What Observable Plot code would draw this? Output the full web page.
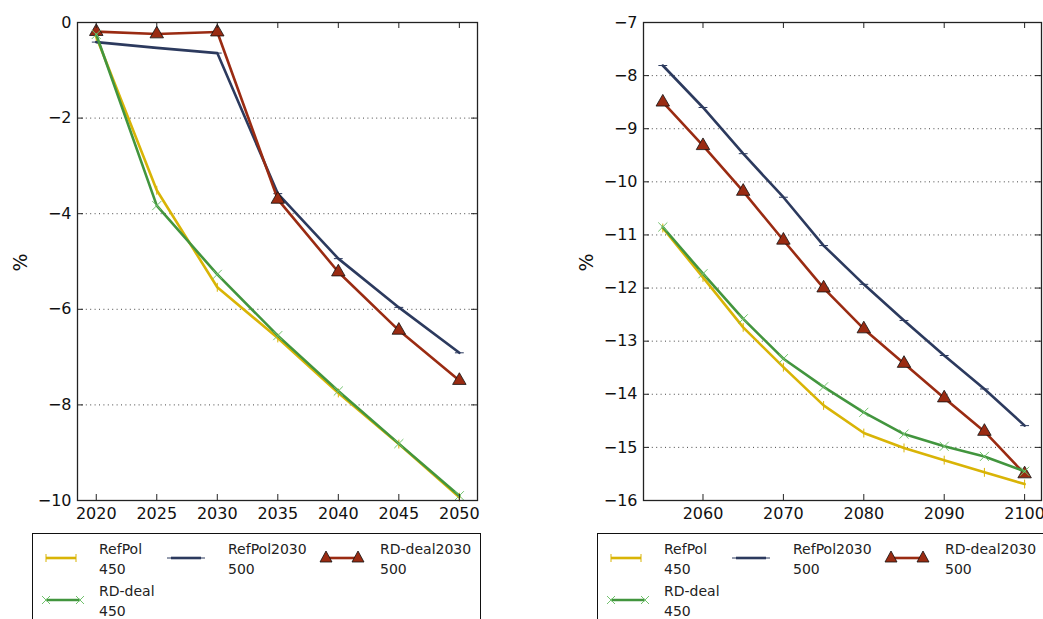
<!DOCTYPE html>
<html><head><meta charset="utf-8">
<script src="https://cdn.jsdelivr.net/npm/d3@7"></script>
<script src="https://cdn.jsdelivr.net/npm/@observablehq/plot@0.6"></script>
<style>
body{margin:0;background:#fff;font-family:"DejaVu Sans",sans-serif;}
#wrap{position:relative;width:1043px;height:619px;overflow:hidden;background:#fff;}
.panel{position:absolute;top:0;}
.legend{position:absolute;top:533px;width:449px;height:120px;border:1.3px solid #111;background:#fff;box-sizing:border-box;}
.lt{position:absolute;font-size:14px;line-height:20px;color:#222;white-space:nowrap;}
.ls{position:absolute;overflow:visible;}
</style></head><body><div id="wrap"></div>
<script>
// ---------- data ----------
const seriesNames = ["RefPol", "RefPol2030", "RD-deal2030", "RD-deal"];
const seriesSub = ["450", "500", "500", "450"];
const seriesColors = ["#d9b406", "#2c3a5e", "#9a2b12", "#42953e"];
const yLabel = "%";

// left panel (2020–2050)
const yearsA = [2020, 2025, 2030, 2035, 2040, 2045, 2050];
const refPolA = [-0.3, -3.51, -5.54, -6.6, -7.75, -8.82, -9.93];
const refPol2030A = [-0.41, -0.53, -0.64, -3.58, -4.94, -5.96, -6.91];
const rdDeal2030A = [-0.19, -0.24, -0.2, -3.7, -5.22, -6.44, -7.49];
const rdDealA = [-0.25, -3.83, -5.27, -6.55, -7.71, -8.81, -9.9];
const xTicksA = [2020, 2025, 2030, 2035, 2040, 2045, 2050];
const yTicksA = [-10, -8, -6, -4, -2, 0];

// right panel (2055–2100)
const yearsB = [2055, 2060, 2065, 2070, 2075, 2080, 2085, 2090, 2095, 2100];
const refPolB = [-10.87, -11.8, -12.74, -13.49, -14.21, -14.73, -15.01, -15.24, -15.47, -15.69];
const refPol2030B = [-7.81, -8.6, -9.47, -10.29, -11.2, -11.93, -12.61, -13.27, -13.9, -14.59];
const rdDeal2030B = [-8.5, -9.32, -10.18, -11.1, -12.0, -12.77, -13.42, -14.07, -14.7, -15.5];
const rdDealB = [-10.85, -11.73, -12.58, -13.33, -13.86, -14.34, -14.75, -14.98, -15.17, -15.45];
const xTicksB = [2060, 2070, 2080, 2090, 2100];
const yTicksB = [-16, -15, -14, -13, -12, -11, -10, -9, -8, -7];

// ---------- helpers ----------
const vbar = {draw(ctx, size) { const r = Math.sqrt(size) / 2; ctx.moveTo(0, -r); ctx.lineTo(0, r); }};
const hbar = {draw(ctx, size) { const r = Math.sqrt(size) / 2; ctx.moveTo(-r, 0); ctx.lineTo(r, 0); }};
const fmtMinus = d => d < 0 ? "\u2212" + Math.abs(d) : String(d);
const fontFamily = "DejaVu Sans, sans-serif";

function table(years, values) { return years.map((x, i) => ({x, y: values[i]})); }

function markerMarks(data, idx) {
  const c = seriesColors[idx];
  if (idx === 0) return Plot.dot(data, {x: "x", y: "y", symbol: vbar, r: 5, fill: "none", stroke: c, strokeWidth: 1});
  if (idx === 1) return Plot.dot(data, {x: "x", y: "y", symbol: hbar, r: 5, fill: "none", stroke: c, strokeWidth: 1});
  if (idx === 2) return Plot.dot(data, {x: "x", y: "y", symbol: "triangle", r: 5, fill: c, stroke: "#111", strokeWidth: 0.8});
  return Plot.dot(data, {x: "x", y: "y", symbol: "times", r: 4.2, fill: "none", stroke: "#72c26e", strokeWidth: 1});
}

function panel({years, vals, xDomain, yDomain, xTicks, yTicks, width, marginLeft, marginRight}) {
  const marginTop = 22, marginBottom = 31, H = 478;
  const W = width - marginLeft - marginRight;
  const grid = yTicks.filter(v => v > yDomain[0] && v < yDomain[1]);
  const marks = [
    Plot.gridY(grid, {stroke: "#333", strokeOpacity: 0.9, strokeWidth: 1, strokeDasharray: "1,3.4"})
  ];
  for (const i of [0, 1, 2, 3]) {
    const data = table(years, vals[i]);
    marks.push(Plot.line(data, {x: "x", y: "y", stroke: seriesColors[i], strokeWidth: 2.6, strokeLinejoin: "round"}));
    marks.push(markerMarks(data, i));
  }
  marks.push(
    Plot.frame({stroke: "#222", strokeWidth: 1.3}),
    Plot.tickX(xTicks, {x: d => d, insetTop: H - 6, stroke: "#222"}),
    Plot.tickX(xTicks, {x: d => d, insetBottom: H - 6, stroke: "#222"}),
    Plot.tickY(yTicks, {y: d => d, insetRight: W - 6, stroke: "#222"}),
    Plot.tickY(yTicks, {y: d => d, insetLeft: W - 6, stroke: "#222"}),
    Plot.axisX(xTicks, {tickSize: 0, tickPadding: 7, tickFormat: d => String(d), label: null, fontSize: 16, fill: "#111"}),
    Plot.axisY(yTicks, {tickSize: 0, tickPadding: 6, tickFormat: fmtMinus, label: null, fontSize: 16, fill: "#111"}),
    Plot.text([yLabel], {text: d => d, frameAnchor: "left", dx: -57, dy: 10, rotate: -90, fontSize: 19, fill: "#111"})
  );
  return Plot.plot({
    width, height: marginTop + H + marginBottom,
    marginLeft, marginRight, marginTop, marginBottom,
    style: {fontFamily, fontSize: "16px", background: "white", overflow: "visible"},
    x: {domain: xDomain},
    y: {domain: yDomain},
    marks
  });
}

function sampleSvg(idx, len) {
  const c = seriesColors[idx];
  const w = len + 16, y = 8, x1 = 8, x2 = 8 + len;
  let s = `<svg class="ls" width="${w}" height="16" viewBox="0 0 ${w} 16">`;
  s += `<line x1="${x1}" y1="${y}" x2="${x2}" y2="${y}" stroke="${c}" stroke-width="2.6"/>`;
  for (const x of [x1, x2]) {
    if (idx === 0) s += `<line x1="${x}" y1="${y - 4}" x2="${x}" y2="${y + 4}" stroke="${c}" stroke-width="1"/>`;
    if (idx === 1) s += `<line x1="${x - 4}" y1="${y}" x2="${x + 4}" y2="${y}" stroke="${c}" stroke-width="1"/>`;
    if (idx === 2) s += `<path d="M${x},${y - 7}L${x + 6},${y + 4}L${x - 6},${y + 4}Z" fill="${c}" stroke="#111" stroke-width="0.8"/>`;
    if (idx === 3) s += `<path d="M${x - 4},${y - 4}L${x + 4},${y + 4}M${x - 4},${y + 4}L${x + 4},${y - 4}" stroke="#72c26e" stroke-width="1"/>`;
  }
  return s + "</svg>";
}

function legend(left) {
  const box = document.createElement("div");
  box.className = "legend";
  box.style.left = left + "px";
  const pos = [[13, 66, 0], [138, 195, 0], [291, 347, 0], [13, 66, 42]];
  seriesNames.forEach((name, i) => {
    const [sx, tx, ry] = pos[i];
    const len = i === 2 ? 32 : (i === 3 ? 34 : 30);
    const sv = document.createElement("div");
    sv.style.cssText = `position:absolute;left:${sx - 8 + (i===2?2:0)}px;top:${ry + 16}px;`;
    sv.innerHTML = sampleSvg(i, len);
    box.appendChild(sv);
    const t = document.createElement("div");
    t.className = "lt";
    t.style.left = tx + "px";
    t.style.top = (ry + 5) + "px";
    t.innerHTML = `${name}<br>${seriesSub[i]}`;
    box.appendChild(t);
  });
  return box;
}

const wrap = document.getElementById("wrap");
const pA = panel({years: yearsA, vals: [refPolA, refPol2030A, rdDeal2030A, rdDealA],
  xDomain: [2018.45, 2051.5], yDomain: [-10, 0], xTicks: xTicksA, yTicks: yTicksA,
  width: 490, marginLeft: 77, marginRight: 13});
pA.classList.add("panel"); pA.style.left = "0px";
const pB = panel({years: yearsB, vals: [refPolB, refPol2030B, rdDeal2030B, rdDealB],
  xDomain: [2052.6, 2102.1], yDomain: [-16, -7], xTicks: xTicksB, yTicks: yTicksB,
  width: 483, marginLeft: 83, marginRight: 2});
pB.classList.add("panel"); pB.style.left = "560px";
wrap.appendChild(pA);
wrap.appendChild(pB);
wrap.appendChild(legend(32));
wrap.appendChild(legend(597));
</script></body></html>
